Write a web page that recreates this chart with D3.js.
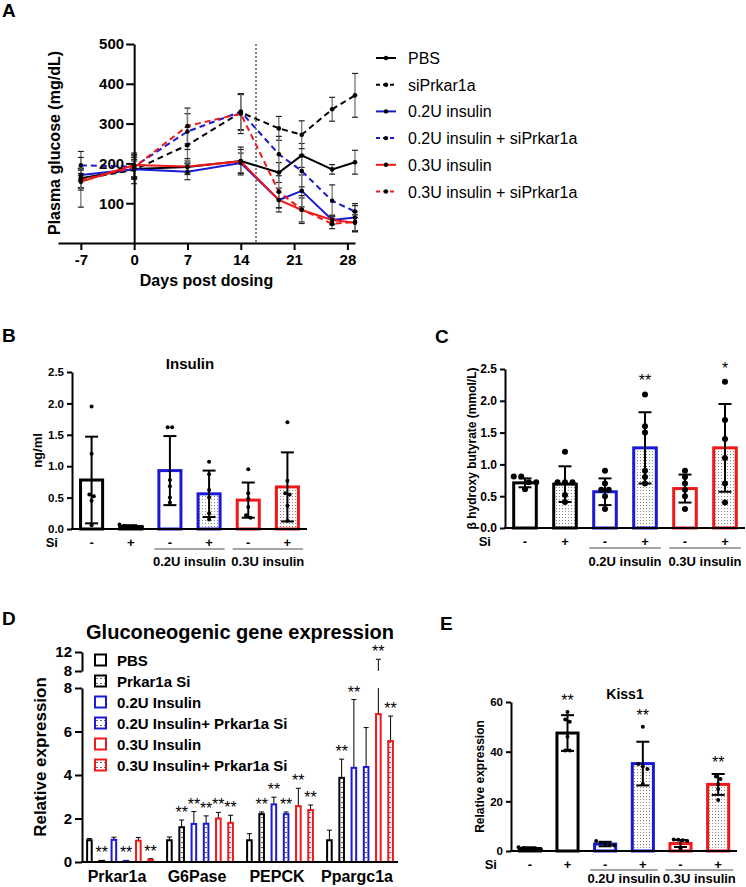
<!DOCTYPE html>
<html>
<head>
<meta charset="utf-8">
<script src="https://cdnjs.cloudflare.com/ajax/libs/d3/7.8.5/d3.min.js"></script>
<style>
  body { margin: 0; background: #fff; }
  svg { display: block; font-family: "Liberation Sans", Arial, sans-serif; }
</style>
</head>
<body>
<script>
// ---------- A: plasma glucose over time
const days = [-7, 0, 7, 14, 19, 22, 26, 29];
const dayTicks = [-7, 0, 7, 14, 21, 28];
const glucoseTicks = [100, 200, 300, 400, 500];
const glucoseNames = ['PBS', 'siPrkar1a', '0.2U insulin', '0.2U insulin + siPrkar1a', '0.3U insulin', '0.3U insulin + siPrkar1a'];
const glucosePBS  = [163, 186, 191, 206, 177, 220, 185, 203];
const glucoseSi   = [160, 184, 246, 328, 288, 272, 336, 371];
const glucose02   = [171, 185, 179, 201, 108, 131, 58, 64];
const glucose02Si = [195, 192, 280, 330, 223, 181, 106, 79];
const glucose03   = [154, 196, 192, 205, 108, 83, 58, 51];
const glucose03Si = [158, 190, 294, 325, 129, 84, 48, 53];
const errPBS  = [25, 20, 15, 35, 25, 30, 12, 30];
const errSi   = [70, 35, 45, 45, 30, 35, 30, 55];
const err02   = [15, 25, 20, 25, 30, 40, 12, 35];
const err02Si = [20, 30, 45, 45, 45, 40, 40, 15];
const err03   = [15, 30, 20, 30, 20, 30, 10, 20];
const err03Si = [25, 25, 45, 50, 40, 35, 12, 25];
const dosingDay = 16;

// ---------- B, C, E: six groups each
const siLabels = ['-', '+', '-', '+', '-', '+'];
const doseGroups = ['0.2U insulin', '0.3U insulin'];

const insulinMean = [0.78, 0.04, 0.93, 0.56, 0.46, 0.67];
const insulinSD = [0.69, 0.02, 0.55, 0.37, 0.28, 0.55];
const insulinPoints = [
  [1.95, 1.2, 0.55, 0.52, 0.45, 0.06],
  [0.07, 0.05, 0.04, 0.04, 0.03, 0.03],
  [1.62, 1.62, 0.78, 0.68, 0.5, 0.42],
  [1.07, 0.87, 0.62, 0.5, 0.25, 0.15],
  [0.95, 0.57, 0.48, 0.35, 0.22, 0.18],
  [1.7, 0.77, 0.57, 0.55, 0.37, 0.13]
];
const insulinStars = ['', '', '', '', '', ''];

const bhbMean = [0.71, 0.69, 0.57, 1.26, 0.62, 1.26];
const bhbSD = [0.07, 0.28, 0.21, 0.56, 0.22, 0.69];
const bhbPoints = [
  [0.81, 0.81, 0.72, 0.72, 0.61],
  [1.2, 0.72, 0.72, 0.72, 0.52, 0.41],
  [0.9, 0.7, 0.6, 0.6, 0.5, 0.3],
  [2.1, 1.6, 1.5, 0.9, 0.8, 0.7],
  [0.9, 0.8, 0.7, 0.6, 0.5, 0.3],
  [2.3, 1.7, 1.4, 1.1, 0.7, 0.4]
];
const bhbStars = ['', '', '', '**', '', '*'];

const kissMean = [1.0, 47.5, 2.8, 35.2, 3.0, 26.8];
const kissSD = [0.5, 7.2, 0.9, 8.8, 1.4, 4.2];
const kissPoints = [
  [1.5, 1.2, 1.0, 0.8, 0.6, 0.5],
  [56, 53, 52, 46, 40.5, 40.5],
  [4.0, 3.3, 3.0, 2.5, 2.2],
  [50, 35, 34, 33, 27],
  [4.6, 4.5, 4.3, 4.0, 1.0],
  [30, 29, 27, 25, 20.5]
];
const kissStars = ['', '**', '', '**', '', '**'];

// ---------- D: gluconeogenic genes
const genes = ['Prkar1a', 'G6Pase', 'PEPCK', 'Ppargc1a'];
const treatments = ['PBS', 'Prkar1a Si', '0.2U Insulin', '0.2U Insulin+ Prkar1a Si', '0.3U Insulin', '0.3U Insulin+ Prkar1a Si'];
const exprPrkar1a  = [1.0, 0.05, 1.02, 0.05, 0.98, 0.1];
const exprG6Pase   = [1.0, 1.6, 1.75, 1.76, 2.0, 1.8];
const exprPEPCK    = [1.0, 2.2, 2.65, 2.2, 2.57, 2.39];
const exprPpargc1a = [1.0, 3.87, 4.33, 4.37, 6.8, 5.56];
const errPrkar1a   = [0.08, 0.02, 0.12, 0.02, 0.15, 0.05];
const errG6Pase    = [0.15, 0.33, 0.57, 0.36, 0.28, 0.35];
const errPEPCK     = [0.3, 0.1, 0.33, 0.1, 0.82, 0.23];
const errPpargc1a  = [0.46, 0.86, 3.14, 1.81, 3.67, 1.15];
const starsPrkar1a  = ['', '**', '', '**', '', '**'];
const starsG6Pase   = ['', '**', '**', '**', '**', '**'];
const starsPEPCK    = ['', '**', '**', '**', '**', '**'];
const starsPpargc1a = ['', '**', '**', '', '**', '**'];
const exprTicksLow = [0, 2, 4, 6, 8];
const exprTicksHigh = [8, 12];

// colours per treatment (black, blue, red; open vs siRNA)
const BLUE = '#1a1ad6';
const RED = '#f01818';
const groupColors = ['#000', '#000', BLUE, BLUE, RED, RED];
const groupSi = [false, true, false, true, false, true];

let svg = d3.select('body').append('svg')
    .attr('width', 746)
    .attr('height', 887);

let defs = svg.append('defs');
let dots = defs.append('pattern')
    .attr('id', 'dots')
    .attr('patternUnits', 'userSpaceOnUse')
    .attr('width', 3).attr('height', 3);
dots.append('rect').attr('width', 3).attr('height', 3).attr('fill', '#fff');
dots.append('rect').attr('x', 1).attr('y', 1).attr('width', 1).attr('height', 1).attr('fill', '#888');

let dashes = defs.append('pattern')
    .attr('id', 'dashes')
    .attr('patternUnits', 'userSpaceOnUse')
    .attr('width', 4).attr('height', 5);
dashes.append('rect').attr('width', 4).attr('height', 5).attr('fill', '#fff');
dashes.append('rect').attr('x', 1).attr('y', 2).attr('width', 2).attr('height', 1).attr('fill', '#666');

let plain = function(d) { return String(d); };   // keep "-7" with a hyphen

function panelLetter(t, x, y) {
  svg.append('text').attr('x', x).attr('y', y)
    .attr('font-size', 19).attr('font-weight', 'bold').text(t);
}

function styleAxis(g, size) {
  g.select('.domain').attr('stroke', '#000').attr('stroke-width', 2);
  g.selectAll('.tick line').attr('stroke', '#000').attr('stroke-width', 2);
  g.selectAll('.tick text')
    .attr('fill', '#000')
    .attr('font-size', size)
    .attr('font-weight', 'bold')
    .attr('font-family', '"Liberation Sans", Arial, sans-serif');
}

function yLabel(t, x, y, size) {
  svg.append('text')
    .attr('transform', 'translate(' + x + ',' + y + ') rotate(-90)')
    .attr('text-anchor', 'middle')
    .attr('font-size', size)
    .attr('font-weight', 'bold')
    .text(t);
}

// ================= Panel A =================
panelLetter('A', 2, 17);

let xA = d3.scaleLinear().domain([-10, 29]).range([58, 355]);
let yA = d3.scaleLinear().domain([0, 500]).range([243, 44]);

let series = [
  { name: glucoseNames[0], mean: glucosePBS, err: errPBS, color: '#000', dash: null },
  { name: glucoseNames[1], mean: glucoseSi, err: errSi, color: '#000', dash: '6,4' },
  { name: glucoseNames[2], mean: glucose02, err: err02, color: BLUE, dash: null },
  { name: glucoseNames[3], mean: glucose02Si, err: err02Si, color: BLUE, dash: '6,4' },
  { name: glucoseNames[4], mean: glucose03, err: err03, color: RED, dash: null },
  { name: glucoseNames[5], mean: glucose03Si, err: err03Si, color: RED, dash: '6,4' }
];

let gA = svg.append('g');

// dosing marker
gA.append('line')
    .attr('x1', xA(dosingDay)).attr('x2', xA(dosingDay))
    .attr('y1', yA(500)).attr('y2', yA(0) - 1)
    .attr('stroke', '#000').attr('stroke-width', 1)
    .attr('stroke-dasharray', '2,2');

// error bars first so the lines sit on top
series.forEach(function(s) {
  days.forEach(function(d, i) {
    let lo = yA(s.mean[i] - s.err[i]), hi = yA(s.mean[i] + s.err[i]);
    gA.append('line').attr('x1', xA(d)).attr('x2', xA(d)).attr('y1', lo).attr('y2', hi)
      .attr('stroke', '#777').attr('stroke-width', 1.3);
    [lo, hi].forEach(function(yy) {
      gA.append('line').attr('x1', xA(d) - 3).attr('x2', xA(d) + 3).attr('y1', yy).attr('y2', yy)
        .attr('stroke', '#222').attr('stroke-width', 1.2);
    });
  });
});

let lineA = d3.line()
  .x(function(d, i) { return xA(days[i]); })
  .y(function(d) { return yA(d); });

series.forEach(function(s) {
  gA.append('path')
    .datum(s.mean)
    .attr('d', lineA)
    .attr('fill', 'none')
    .attr('stroke', s.color)
    .attr('stroke-width', 2)
    .attr('stroke-dasharray', s.dash);
  gA.selectAll(null).data(s.mean).enter().append('circle')
    .attr('cx', function(d, i) { return xA(days[i]); })
    .attr('cy', function(d) { return yA(d); })
    .attr('r', 2.3)
    .attr('fill', '#000');
});

let xAxisA = gA.append('g')
    .attr('transform', 'translate(0,' + yA(0) + ')')
    .call(d3.axisBottom(xA).tickValues(dayTicks).tickFormat(plain).tickSize(7).tickSizeOuter(0).tickPadding(4));
styleAxis(xAxisA, 15);

let yAxisA = gA.append('g')
    .attr('transform', 'translate(' + xA(0) + ',0)')
    .call(d3.axisLeft(yA).tickValues(glucoseTicks).tickFormat(plain).tickSize(8).tickSizeOuter(0).tickPadding(2));
styleAxis(yAxisA, 15);

svg.append('text').attr('x', xA(9.5)).attr('y', 286)
  .attr('text-anchor', 'middle').attr('font-size', 16).attr('font-weight', 'bold')
  .text('Days post dosing');
yLabel('Plasma glucose (mg/dL)', 60, 143, 16);

// legend A
let legA = svg.append('g').attr('transform', 'translate(376,58)');
series.forEach(function(s, i) {
  let row = legA.append('g').attr('transform', 'translate(0,' + (i * 26.7) + ')');
  row.append('line').attr('x1', 0).attr('x2', 20).attr('y1', 0).attr('y2', 0)
    .attr('stroke', s.color).attr('stroke-width', 2).attr('stroke-dasharray', s.dash ? '4,3' : null);
  row.append('circle').attr('cx', 10).attr('cy', 0).attr('r', 2.2).attr('fill', '#000');
  row.append('text').attr('x', 32).attr('y', 6).attr('font-size', 16).text(s.name);
});

// ================= Bar + dot panels (B, C, E) =================
function spread(vals, y, gap) {
  // fan out points that would overlap vertically
  let pts = vals.map(function(v) { return { v: v, py: y(v) }; })
    .sort(function(a, b) { return a.py - b.py; });
  let clusters = [];
  pts.forEach(function(d) {
    let c = clusters[clusters.length - 1];
    if (c && d.py - c[c.length - 1].py < gap * 0.8) c.push(d);
    else clusters.push([d]);
  });
  clusters.forEach(function(c) {
    c.forEach(function(d, i) { d.dx = (i - (c.length - 1) / 2) * gap; });
  });
  return pts;
}

function barPanel(p) {
  let x = d3.scaleBand().domain(d3.range(6)).range([p.left, p.right])
      .paddingInner(0.36).paddingOuter(0.18);
  let y = d3.scaleLinear().domain([0, p.max]).range([p.bottom, p.top]);
  let g = svg.append('g');
  let bw = x.bandwidth();

  p.mean.forEach(function(m, i) {
    g.append('rect')
      .attr('x', x(i) + 1.5).attr('width', bw - 3)
      .attr('y', y(m)).attr('height', y(0) - y(m))
      .attr('fill', p.filled[i] ? 'url(#dots)' : '#fff')
      .attr('stroke', groupColors[i]).attr('stroke-width', 3);
  });

  p.mean.forEach(function(m, i) {
    let cx = x(i) + bw / 2;
    let lo = y(Math.max(0, m - p.sd[i])), hi = y(m + p.sd[i]);
    g.append('line').attr('x1', cx).attr('x2', cx).attr('y1', lo).attr('y2', hi)
      .attr('stroke', '#000').attr('stroke-width', 2);
    [lo, hi].forEach(function(yy) {
      g.append('line').attr('x1', cx - 6.5).attr('x2', cx + 6.5).attr('y1', yy).attr('y2', yy)
        .attr('stroke', '#000').attr('stroke-width', 2);
    });
  });

  p.points.forEach(function(vals, i) {
    let cx = x(i) + bw / 2;
    g.selectAll(null).data(spread(vals, y, p.gap)).enter().append('circle')
      .attr('cx', function(d) { return cx + d.dx; })
      .attr('cy', function(d) { return d.py; })
      .attr('r', p.r)
      .attr('fill', '#000');
  });

  p.stars.forEach(function(s, i) {
    if (!s) return;
    let top = d3.min([y(p.mean[i] + p.sd[i])].concat(p.points[i].map(y)));
    g.append('text').attr('x', x(i) + bw / 2).attr('y', top - p.starGap)
      .attr('text-anchor', 'middle').attr('font-size', 16).text(s);
  });

  let ya = g.append('g').attr('transform', 'translate(' + p.left + ',0)')
      .call(d3.axisLeft(y).tickValues(p.ticks).tickFormat(p.fmt).tickSize(5).tickSizeOuter(0).tickPadding(3));
  styleAxis(ya, p.tickSize);
  g.append('line').attr('x1', p.left - 1).attr('x2', p.right).attr('y1', y(0)).attr('y2', y(0))
    .attr('stroke', '#000').attr('stroke-width', 2);

  // Si row and dose grouping
  g.append('text').attr('x', p.left - 14).attr('y', y(0) + 18).attr('text-anchor', 'end')
    .attr('font-size', 13).attr('font-weight', 'bold').text('Si');
  siLabels.forEach(function(s, i) {
    g.append('text').attr('x', x(i) + bw / 2).attr('y', y(0) + 18).attr('text-anchor', 'middle')
      .attr('font-size', 13).attr('font-weight', 'bold').text(s);
  });
  doseGroups.forEach(function(name, k) {
    let a = x(2 + 2 * k) - 3, b = x(3 + 2 * k) + bw + 3;
    g.append('line').attr('x1', a).attr('x2', b).attr('y1', y(0) + p.lineGap).attr('y2', y(0) + p.lineGap)
      .attr('stroke', '#888').attr('stroke-width', 1.5);
    g.append('text').attr('x', (a + b) / 2).attr('y', y(0) + p.labelGap).attr('text-anchor', 'middle')
      .attr('font-size', 13).attr('font-weight', 'bold').text(name);
  });

  if (p.title) {
    g.append('text').attr('x', p.titleX).attr('y', p.titleY).attr('text-anchor', 'middle')
      .attr('font-size', p.titleSize).attr('font-weight', 'bold').text(p.title);
  }
  yLabel(p.ylabel, p.ylabelX, (y(0) + y(p.max)) / 2, p.ylabelSize);
}

// ================= Panel B =================
panelLetter('B', 2, 342);
barPanel({
  left: 72, right: 307, top: 372, bottom: 529, max: 2.5,
  ticks: [0, 0.5, 1, 1.5, 2, 2.5], fmt: d3.format('.1f'), tickSize: 11.5,
  mean: insulinMean, sd: insulinSD, points: insulinPoints, stars: insulinStars,
  filled: groupSi,
  r: 2, gap: 4.5, starGap: 8, lineGap: 20, labelGap: 37,
  title: 'Insulin', titleX: 190, titleY: 369, titleSize: 15,
  ylabel: 'ng/ml', ylabelX: 42, ylabelSize: 13
});

// ================= Panel C =================
panelLetter('C', 435, 343);
barPanel({
  left: 505, right: 745, top: 369, bottom: 528, max: 2.5,
  ticks: [0, 0.5, 1, 1.5, 2, 2.5], fmt: d3.format('.1f'), tickSize: 12,
  mean: bhbMean, sd: bhbSD, points: bhbPoints, stars: bhbStars,
  filled: groupSi,
  r: 3, gap: 7.5, starGap: 8, lineGap: 20, labelGap: 38,
  title: null,
  ylabel: 'β hydroxy butyrate (mmol/L)', ylabelX: 476, ylabelSize: 12
});

// ================= Panel E =================
panelLetter('E', 440, 630);
barPanel({
  left: 511, right: 737, top: 702, bottom: 851, max: 60,
  ticks: [0, 20, 40, 60], fmt: plain, tickSize: 11.5,
  mean: kissMean, sd: kissSD, points: kissPoints, stars: kissStars,
  filled: [false, false, false, true, false, true],
  r: 2, gap: 4.5, starGap: 6, lineGap: 19, labelGap: 32,
  title: 'Kiss1', titleX: 625, titleY: 699, titleSize: 14,
  ylabel: 'Relative expression', ylabelX: 484, ylabelSize: 12
});

// ================= Panel D =================
panelLetter('D', 2, 625);
svg.append('text').attr('x', 240).attr('y', 639).attr('text-anchor', 'middle')
  .attr('font-size', 20).attr('font-weight', 'bold').text('Gluconeogenic gene expression');

let exprValues = [exprPrkar1a, exprG6Pase, exprPEPCK, exprPpargc1a];
let exprErrors = [errPrkar1a, errG6Pase, errPEPCK, errPpargc1a];
let exprStars = [starsPrkar1a, starsG6Pase, starsPEPCK, starsPpargc1a];

let x0 = d3.scaleBand().domain(genes).range([80, 400]);
let x1 = d3.scaleBand().domain(d3.range(6)).range([0, x0.bandwidth()])
    .paddingInner(0.46).paddingOuter(0.5);
let yLow = d3.scaleLinear().domain([0, 8]).range([862, 688]);
let yHigh = d3.scaleLinear().domain([8, 12]).range([671, 652]);
function yD(v) { return v <= 8 ? yLow(v) : yHigh(v); }

let gD = svg.append('g');
genes.forEach(function(gene, k) {
  let vals = exprValues[k];
  vals.forEach(function(v, i) {
    let bx = x0(gene) + x1(i);
    let bw = x1.bandwidth();
    let cx = bx + bw / 2;
    let top = v + exprErrors[k][i];
    // error bar, one sided
    if (top <= 8) {
      gD.append('line').attr('x1', cx).attr('x2', cx).attr('y1', yLow(v)).attr('y2', yLow(top))
        .attr('stroke', '#000').attr('stroke-width', 1);
    } else {
      gD.append('line').attr('x1', cx).attr('x2', cx).attr('y1', yLow(v)).attr('y2', yLow(8))
        .attr('stroke', '#000').attr('stroke-width', 1);
      gD.append('line').attr('x1', cx).attr('x2', cx).attr('y1', yHigh(8)).attr('y2', yHigh(top))
        .attr('stroke', '#000').attr('stroke-width', 1);
    }
    gD.append('line').attr('x1', cx - 2.5).attr('x2', cx + 2.5).attr('y1', yD(top)).attr('y2', yD(top))
      .attr('stroke', '#000').attr('stroke-width', 1);
    gD.append('rect')
      .attr('x', bx + 1).attr('width', bw - 2)
      .attr('y', yLow(v)).attr('height', yLow(0) - yLow(v))
      .attr('fill', groupSi[i] ? 'url(#dashes)' : '#fff')
      .attr('stroke', groupColors[i]).attr('stroke-width', 2);
    if (exprStars[k][i]) {
      gD.append('text').attr('x', cx).attr('y', yD(top) - 2).attr('text-anchor', 'middle')
        .attr('font-size', 16).text(exprStars[k][i]);
    }
  });
  gD.append('text').attr('x', x0(gene) + x0.bandwidth() / 2 - 3).attr('y', 882)
    .attr('text-anchor', 'middle').attr('font-size', 16).attr('font-weight', 'bold').text(gene);
});

let axLow = gD.append('g').attr('transform', 'translate(82,0)')
    .call(d3.axisLeft(yLow).tickValues(exprTicksLow).tickFormat(plain).tickSize(7).tickSizeOuter(0).tickPadding(3));
styleAxis(axLow, 15);
let axHigh = gD.append('g').attr('transform', 'translate(82,0)')
    .call(d3.axisLeft(yHigh).tickValues(exprTicksHigh).tickFormat(plain).tickSize(7).tickSizeOuter(0).tickPadding(3));
styleAxis(axHigh, 15);
gD.append('line').attr('x1', 81).attr('x2', 398).attr('y1', 862).attr('y2', 862)
  .attr('stroke', '#000').attr('stroke-width', 2);
yLabel('Relative expression', 46, 757, 17);

// legend D
let legD = svg.append('g').attr('transform', 'translate(95,660)');
treatments.forEach(function(t, i) {
  let row = legD.append('g').attr('transform', 'translate(0,' + (i * 21) + ')');
  row.append('rect').attr('x', 0).attr('y', -5.5).attr('width', 11).attr('height', 11)
    .attr('fill', groupSi[i] ? 'url(#dashes)' : '#fff')
    .attr('stroke', groupColors[i]).attr('stroke-width', 2);
  row.append('text').attr('x', 22).attr('y', 5.5).attr('font-size', 15).attr('font-weight', 'bold').text(t);
});
</script>
</body>
</html>
